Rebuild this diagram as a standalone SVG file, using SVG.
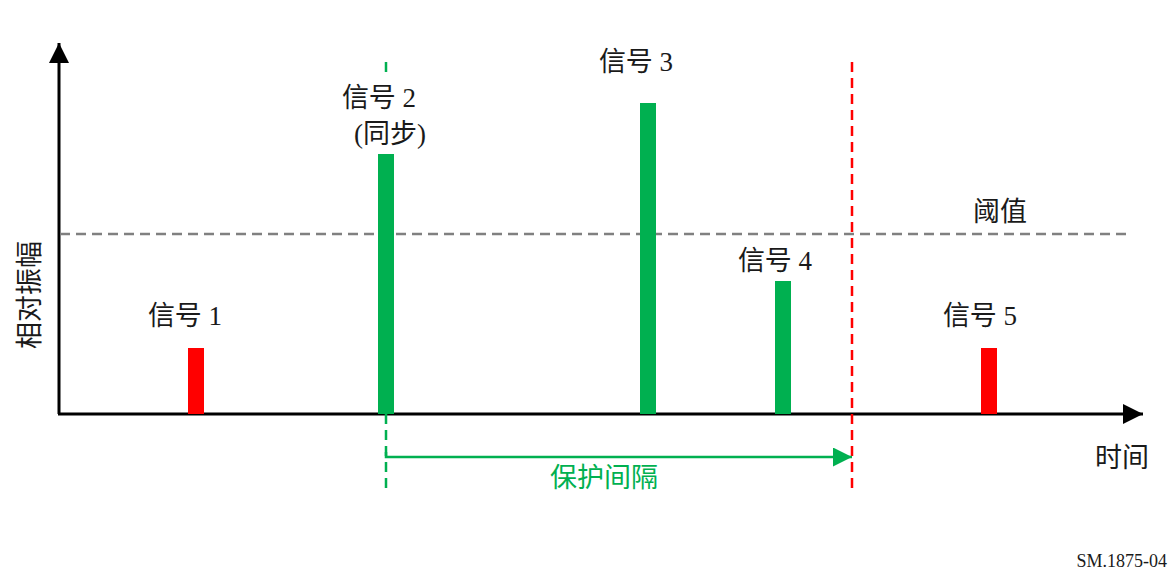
<svg xmlns="http://www.w3.org/2000/svg" width="1173" height="573" viewBox="0 0 1173 573">
<style>
.t{font-family:"Liberation Serif","Noto Sans CJK SC",serif;font-size:27px;fill:#1a1a1a;text-anchor:middle}
.g{fill:#00B050}
.r{fill:#FF0000}
</style>
<defs>
<marker id="ah" markerUnits="userSpaceOnUse" markerWidth="20" markerHeight="20" refX="20" refY="10" orient="auto">
<path d="M0,0 L20,10 L0,20 Z" fill="#000"/>
</marker>
<marker id="gh" markerUnits="userSpaceOnUse" markerWidth="20" markerHeight="19" refX="19" refY="9.5" orient="auto">
<path d="M0,0 L19,9.5 L0,19 Z" fill="#00B050"/>
</marker>
</defs>
<rect width="1173" height="573" fill="#fff"/>
<g id="connectors">
<line x1="59" y1="414" x2="59" y2="43" stroke="#000" stroke-width="3" marker-end="url(#ah)"/>
<line x1="58" y1="414" x2="1143" y2="414" stroke="#000" stroke-width="3" marker-end="url(#ah)"/>
<line x1="60" y1="234" x2="1127" y2="234" stroke="#808080" stroke-width="2.5" stroke-dasharray="10,6"/>
<line x1="386" y1="62" x2="386" y2="492" stroke="#00B050" stroke-width="2.5" stroke-dasharray="10,6"/>
<line x1="852" y1="62" x2="852" y2="492" stroke="#FF0000" stroke-width="2.5" stroke-dasharray="10,6"/>
<polyline points="386,452 386,457 852,457" fill="none" stroke="#00B050" stroke-width="2.5" marker-end="url(#gh)"/>
</g>
<g id="signal1"><rect class="r" x="188" y="348" width="16" height="66"/><text class="t" x="185" y="325">信号 1</text></g>
<g id="signal2"><rect x="336" y="76" width="98" height="76" fill="#fff"/><rect class="g" x="378" y="154" width="16" height="260"/><text class="t" x="379" y="107">信号 2</text><text class="t" x="390" y="143">(同步)</text></g>
<g id="signal3"><rect class="g" x="640" y="103" width="16" height="311"/><text class="t" x="636" y="71">信号 3</text></g>
<g id="signal4"><rect class="g" x="775" y="281" width="16" height="133"/><text class="t" x="775" y="270">信号 4</text></g>
<g id="signal5"><rect class="r" x="981" y="348" width="16" height="66"/><text class="t" x="980" y="325">信号 5</text></g>
<g id="threshold"><text class="t" x="1000" y="221">阈值</text></g>
<g id="axis-y-label"><text class="t" transform="translate(39,295) rotate(-90)" x="0" y="0">相对振幅</text></g>
<g id="axis-x-label"><text class="t" x="1122" y="467">时间</text></g>
<g id="guard"><text class="t" x="604" y="487" style="fill:#00B050">保护间隔</text></g>
<text x="1167" y="567" style="font-family:'Liberation Serif',serif;font-size:18px;fill:#1a1a1a;text-anchor:end">SM.1875-04</text>
</svg>
